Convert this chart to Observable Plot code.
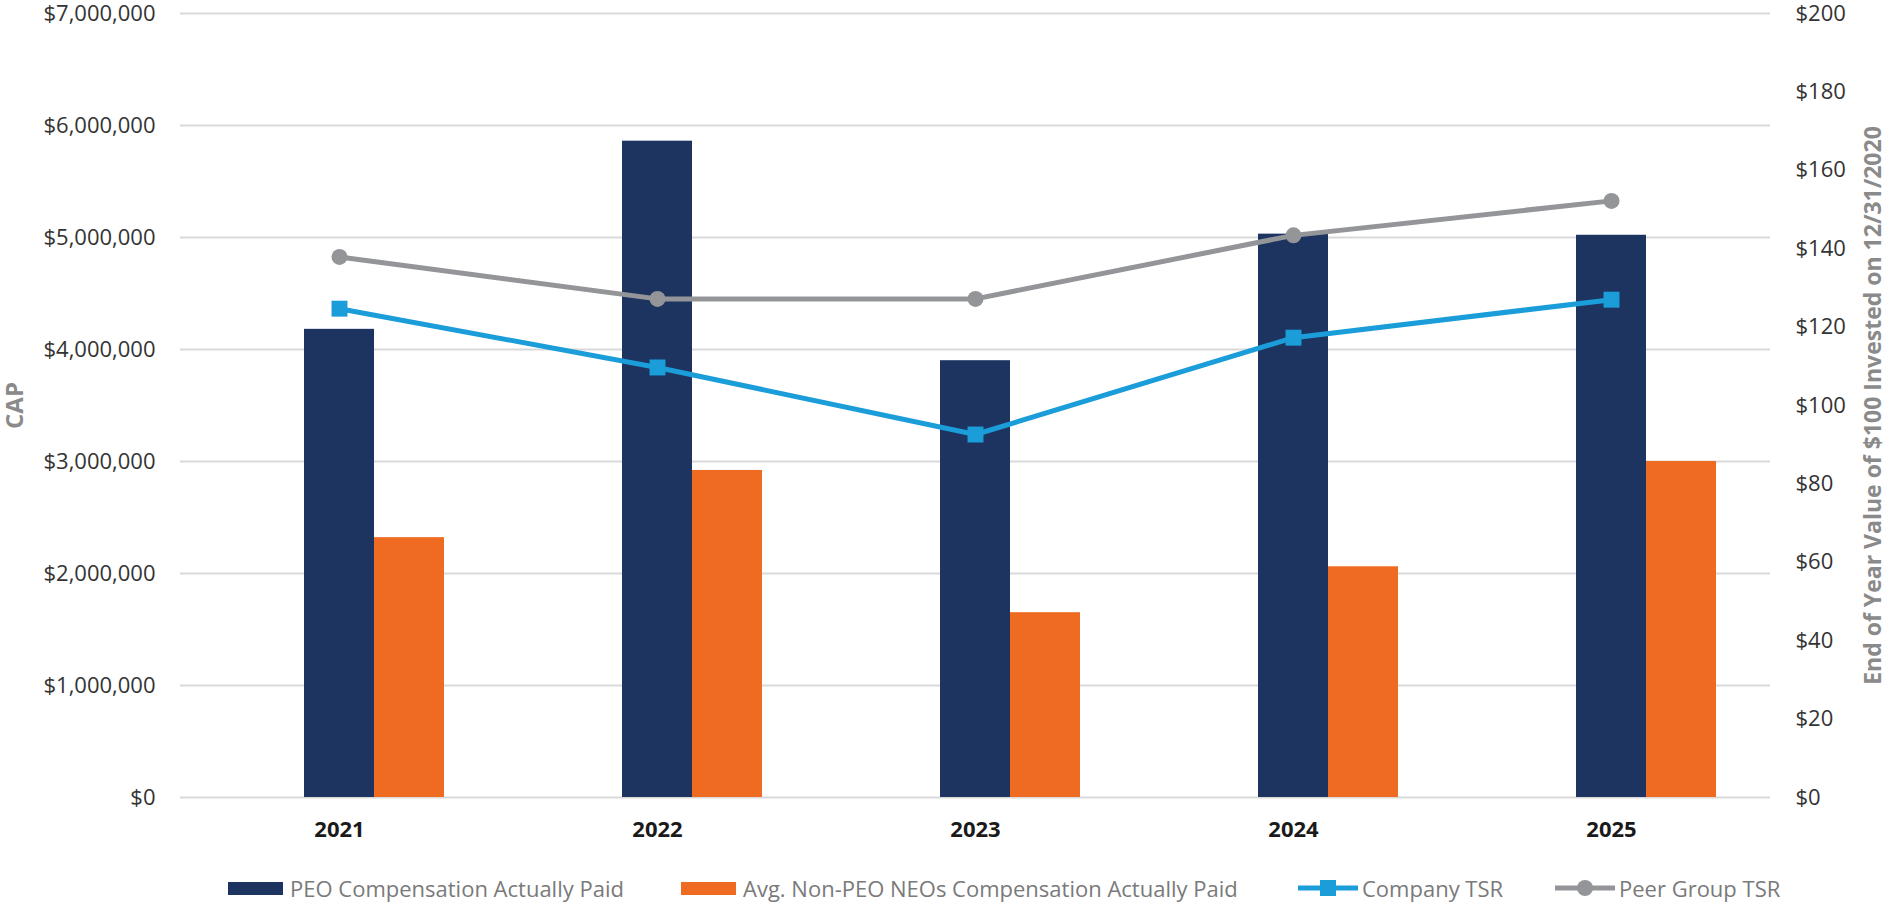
<!DOCTYPE html>
<html>
<head>
<meta charset="utf-8">
<script src="https://cdn.jsdelivr.net/npm/d3@7"></script>
<script src="https://cdn.jsdelivr.net/npm/@observablehq/plot@0.6"></script>
<style>
  html, body { margin: 0; padding: 0; background: #fff; }
  #wrap { position: relative; width: 1892px; height: 904px; font-family: "Open Sans", "Noto Sans", sans-serif; }
  #chart { position: absolute; left: 0; top: 0; }
  .leg { position: absolute; top: 888px; transform: translateY(-50%); display: flex; align-items: center; white-space: nowrap;
         font-size: 22px; color: #7a7a7a; line-height: 1; }
  .sw { display: inline-block; width: 55px; height: 13px; margin-right: 7px; }
  .ln { display: inline-block; margin-right: 4px; }
</style>
</head>
<body>
<div id="wrap">
  <div id="chart"></div>
  <div id="legend"></div>
</div>
<script>
// ---- data ----
const years = ["2021", "2022", "2023", "2024", "2025"];
const peoCAP = [4180000, 5860000, 3900000, 5030000, 5020000];
const neoCAP = [2320000, 2920000, 1650000, 2060000, 3000000];
const companyTSR = [124.7, 109.7, 92.6, 117.3, 127.0];
const peerTSR = [137.9, 127.2, 127.2, 143.4, 152.2];
const leftTicks = [0, 1000000, 2000000, 3000000, 4000000, 5000000, 6000000, 7000000];
const rightTicks = [0, 20, 40, 60, 80, 100, 120, 140, 160, 180, 200];
const seriesNames = ["PEO Compensation Actually Paid", "Avg. Non-PEO NEOs Compensation Actually Paid", "Company TSR", "Peer Group TSR"];
const leftTitle = "CAP";
const rightTitle = "End of Year Value of $100 Invested on 12/31/2020";

const colors = { peo: "#1d3461", neo: "#f06b22", company: "#1a9dd9", peer: "#949599" };

// right axis ($0-$200) is drawn on the left scale ($0-$7M)
const RATIO = 7000000 / 200;

const rows = years.map((y, i) => ({ year: y, peo: peoCAP[i], neo: neoCAP[i], company: companyTSR[i], peer: peerTSR[i] }));

const fmtMoney = d3.format("$,");

const W = 1892, H = 860;
const chart = Plot.plot({
  width: W,
  height: H,
  marginLeft: 180,
  marginRight: 122,
  marginTop: 13,
  marginBottom: 63,
  style: { fontFamily: "'Open Sans', 'Noto Sans', sans-serif", fontSize: "22px", color: "#333", background: "white", overflow: "visible" },
  x: { domain: years, padding: 0 },
  y: { domain: [0, 7000000] },
  marks: [
    Plot.gridY(leftTicks, { stroke: "#d9d9d9", strokeWidth: 2, strokeOpacity: 1 }),
    Plot.barY(rows, { x: "year", y: "peo", fill: colors.peo, insetLeft: 124, insetRight: 124 }),
    Plot.barY(rows, { x: "year", y: "neo", fill: colors.neo, insetLeft: 194, insetRight: 54 }),
    Plot.line(rows, { x: "year", y: d => d.peer * RATIO, stroke: colors.peer, strokeWidth: 5 }),
    Plot.dot(rows, { x: "year", y: d => d.peer * RATIO, fill: colors.peer, r: 8, symbol: "circle" }),
    Plot.line(rows, { x: "year", y: d => d.company * RATIO, stroke: colors.company, strokeWidth: 5 }),
    Plot.dot(rows, { x: "year", y: d => d.company * RATIO, fill: colors.company, r: 9, symbol: "square" }),
    Plot.axisY({ anchor: "left", ticks: leftTicks, tickFormat: fmtMoney, tickSize: 0, tickPadding: 25, label: null, fill: "#333" }),
    Plot.axisY({ anchor: "right", ticks: rightTicks.map(v => v * RATIO), tickFormat: d => "$" + Math.round(d / RATIO), tickSize: 0, tickPadding: 25, label: null, fill: "#333" }),
    Plot.axisX({ tickSize: 0, tickPadding: 24, label: null, fontWeight: "bold", fill: "#1a1a1a" }),
    Plot.text([leftTitle], { text: d => d, frameAnchor: "left", rotate: -90, dx: -165, textAnchor: "middle", lineAnchor: "middle", fontWeight: "bold", fontSize: 24, fill: "#8a8a8a" }),
    Plot.text([rightTitle], { text: d => d, frameAnchor: "right", rotate: -90, dx: 103, textAnchor: "middle", lineAnchor: "middle", fontWeight: "bold", fontSize: 23, fill: "#8a8a8a" })
  ]
});
document.getElementById("chart").appendChild(chart);

// ---- legend ----
const legend = document.getElementById("legend");
const legendLeft = [228, 681, 1298, 1555];
function lineSwatch(color, shape) {
  const marker = shape === "square"
    ? `<rect x="22" y="-8" width="16" height="16" fill="${color}"/>`
    : `<circle cx="30" cy="0" r="8" fill="${color}"/>`;
  return `<svg class="ln" width="60" height="20" viewBox="0 -10 60 20"><line x1="0" x2="60" y1="0" y2="0" stroke="${color}" stroke-width="5"/>${marker}</svg>`;
}
const items = [
  `<span class="sw" style="background:${colors.peo}"></span><span>${seriesNames[0]}</span>`,
  `<span class="sw" style="background:${colors.neo}"></span><span>${seriesNames[1]}</span>`,
  `${lineSwatch(colors.company, "square")}<span>${seriesNames[2]}</span>`,
  `${lineSwatch(colors.peer, "circle")}<span>${seriesNames[3]}</span>`
];
items.forEach((html, i) => {
  const el = document.createElement("div");
  el.className = "leg";
  el.style.left = legendLeft[i] + "px";
  el.innerHTML = html;
  legend.appendChild(el);
});
</script>
</body>
</html>
